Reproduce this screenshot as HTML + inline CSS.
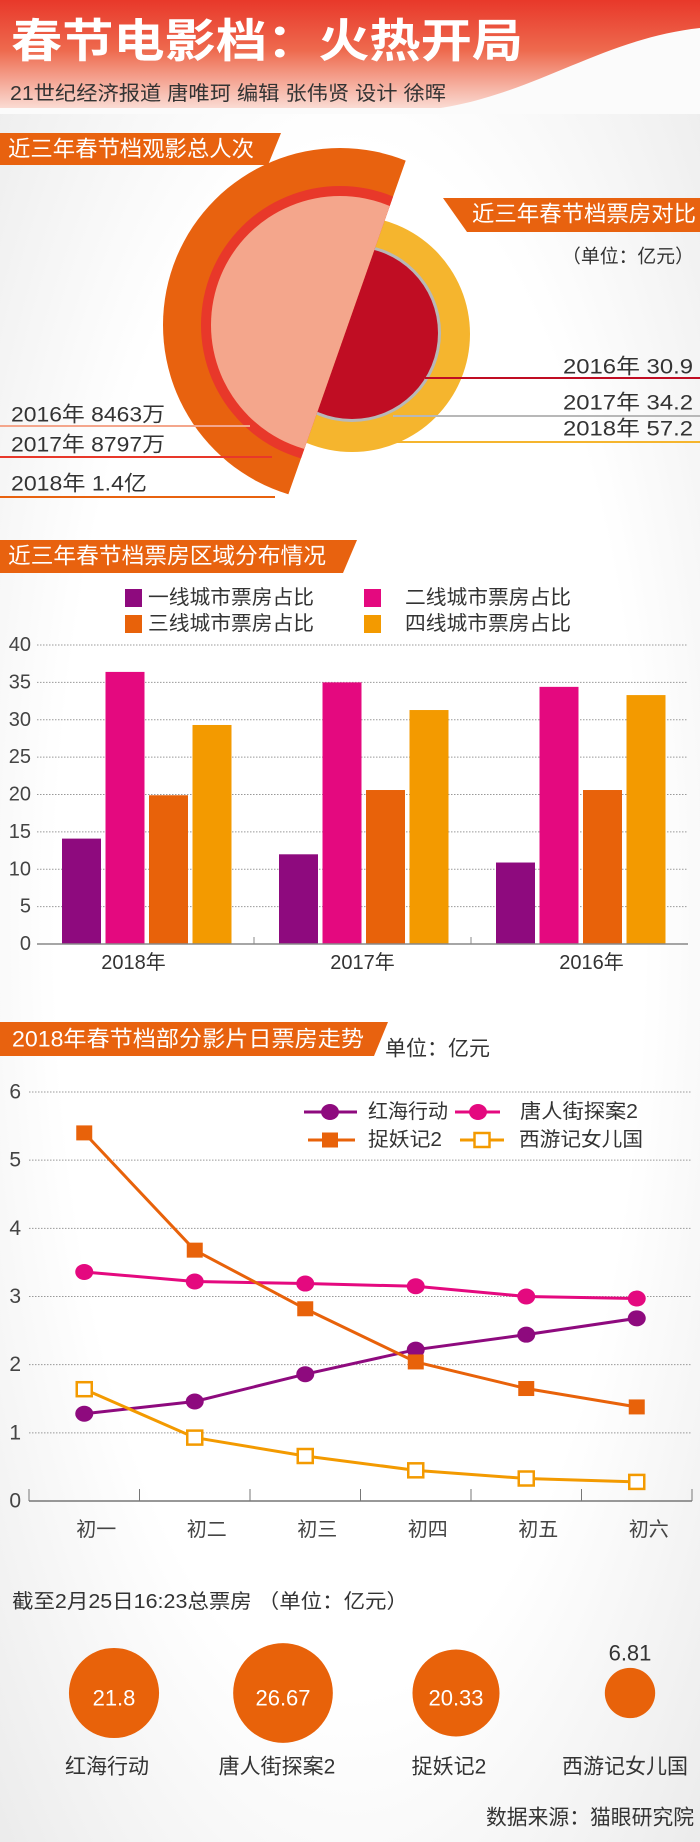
<!DOCTYPE html>
<html><head><meta charset="utf-8"><style>
html,body{margin:0;padding:0;background:#f7f7f7}
svg{display:block}
text{font-family:"Liberation Sans","Noto Sans CJK SC",sans-serif}
</style></head><body>
<svg id="page" width="700" height="1842" viewBox="0 0 700 1842" xmlns="http://www.w3.org/2000/svg">
<defs>
<linearGradient id="hdr" x1="0" y1="0" x2="0" y2="1">
<stop offset="0" stop-color="#e8382a"/><stop offset="0.45" stop-color="#ee6a4e"/><stop offset="1" stop-color="#fbe3dc"/>
</linearGradient>
<radialGradient id="bg" cx="0.5" cy="0.5" r="0.7"><stop offset="0.6" stop-color="#ffffff"/><stop offset="1" stop-color="#ececec"/></radialGradient>
<clipPath id="leftcut"><polygon points="0,0 407,0 407,157 286,501 286,700 0,700"/></clipPath>
<clipPath id="rightcut"><polygon points="407,0 700,0 700,700 286,700 286,501 407,157"/></clipPath>
</defs>
<rect x="0" y="0" width="700" height="1842" fill="url(#bg)"/>
<!-- header -->
<g>
<rect x="0" y="0" width="700" height="112" fill="url(#hdr)"/>
<path d="M400,112 C520,108 590,40 700,28 L700,112 Z" fill="#fbfbfb"/>
<rect x="0" y="108" width="700" height="6" fill="#fbfbfb"/>
<text x="11" y="41" font-size="46" fill="#fff" font-weight="bold" dominant-baseline="central" textLength="512" lengthAdjust="spacingAndGlyphs">春节电影档：火热开局</text>
<text x="10" y="94" font-size="20" fill="#333" dominant-baseline="central" textLength="436" lengthAdjust="spacingAndGlyphs">21世纪经济报道  唐唯珂 编辑 张伟贤 设计 徐晖</text>
</g>
<!-- section 1 -->
<g>
<polygon points="0,133 281,133 268,165 0,165" fill="#e8620f"/>
<text x="8" y="149" font-size="22" fill="#fff" dominant-baseline="central" textLength="246" lengthAdjust="spacingAndGlyphs">近三年春节档观影总人次</text>
<g clip-path="url(#rightcut)">
<circle cx="352" cy="334" r="118" fill="#f5b52e"/>
<circle cx="352" cy="333" r="89" fill="#b8b8b8"/>
<circle cx="352" cy="333" r="86" fill="#c00d23"/>
</g>
<g clip-path="url(#leftcut)">
<circle cx="340" cy="325" r="177" fill="#e8620f"/>
<circle cx="340" cy="325" r="139" fill="#e8382a"/>
<circle cx="340" cy="325" r="129" fill="#f4a68c"/>
</g>
<polygon points="443,198 700,198 700,232 467,232" fill="#e8620f"/>
<text x="472" y="214" font-size="22" fill="#fff" dominant-baseline="central" textLength="224" lengthAdjust="spacingAndGlyphs">近三年春节档票房对比</text>
<text x="562" y="257" font-size="19" fill="#333" dominant-baseline="central" textLength="132" lengthAdjust="spacingAndGlyphs">（单位：亿元）</text>
<line x1="425" y1="378" x2="700" y2="378" stroke="#c00d23" stroke-width="2"/>
<line x1="393" y1="416" x2="700" y2="416" stroke="#b8b8b8" stroke-width="2"/>
<line x1="393" y1="442" x2="700" y2="442" stroke="#f5b52e" stroke-width="2"/>
<text x="693" y="367" font-size="21" fill="#333" text-anchor="end" dominant-baseline="central" textLength="130" lengthAdjust="spacingAndGlyphs">2016年  30.9</text>
<text x="693" y="403" font-size="21" fill="#333" text-anchor="end" dominant-baseline="central" textLength="130" lengthAdjust="spacingAndGlyphs">2017年  34.2</text>
<text x="693" y="429" font-size="21" fill="#333" text-anchor="end" dominant-baseline="central" textLength="130" lengthAdjust="spacingAndGlyphs">2018年  57.2</text>
<line x1="0" y1="426" x2="250" y2="426" stroke="#f4a68c" stroke-width="2"/>
<line x1="0" y1="457" x2="272" y2="457" stroke="#e8382a" stroke-width="2"/>
<line x1="0" y1="497" x2="275" y2="497" stroke="#e8620f" stroke-width="2"/>
<text x="11" y="415" font-size="21" fill="#333" dominant-baseline="central" textLength="154" lengthAdjust="spacingAndGlyphs">2016年  8463万</text>
<text x="11" y="445" font-size="21" fill="#333" dominant-baseline="central" textLength="154" lengthAdjust="spacingAndGlyphs">2017年  8797万</text>
<text x="11" y="484" font-size="21" fill="#333" dominant-baseline="central" textLength="136" lengthAdjust="spacingAndGlyphs">2018年  1.4亿</text>
</g>
<!-- section 2 -->
<g id="barchart">
<polygon points="0,540 357,540 343,573 0,573" fill="#e8620f"/>
<text x="8" y="556" font-size="22" fill="#fff" dominant-baseline="central" textLength="318" lengthAdjust="spacingAndGlyphs">近三年春节档票房区域分布情况</text>
</g>
<!-- section 3 -->
<g id="linechart">
<polygon points="0,1022 388,1022 374,1056 0,1056" fill="#e8620f"/>
<text x="12" y="1039" font-size="22" fill="#fff" dominant-baseline="central" textLength="352" lengthAdjust="spacingAndGlyphs">2018年春节档部分影片日票房走势</text>
<text x="385" y="1049" font-size="21" fill="#333" dominant-baseline="central" textLength="105" lengthAdjust="spacingAndGlyphs">单位：亿元</text>
</g>
<!-- section 4 -->
<g id="bubbles">
<text x="12" y="1602" font-size="20" fill="#333" dominant-baseline="central" textLength="396" lengthAdjust="spacingAndGlyphs">截至2月25日16:23总票房 （单位：亿元）</text>
<text x="694" y="1818" font-size="21" fill="#333" text-anchor="end" dominant-baseline="central" textLength="208" lengthAdjust="spacingAndGlyphs">数据来源：猫眼研究院</text>
</g>
</svg>
<script>
// ---- bar chart data ----
const barYears = ['2018年', '2017年', '2016年'];
const tier1 = [14.1, 12.0, 10.9];
const tier2 = [36.4, 35.0, 34.4];
const tier3 = [19.9, 20.6, 20.6];
const tier4 = [29.3, 31.3, 33.3];
const barTicks = [0, 5, 10, 15, 20, 25, 30, 35, 40];
const barSeriesNames = ['一线城市票房占比', '二线城市票房占比', '三线城市票房占比', '四线城市票房占比'];
// ---- line chart data ----
const days = ['初一', '初二', '初三', '初四', '初五', '初六'];
const hongHai = [1.28, 1.46, 1.86, 2.22, 2.44, 2.68];
const tangRen = [3.36, 3.22, 3.19, 3.15, 3.00, 2.97];
const zhuoYao = [5.40, 3.68, 2.82, 2.04, 1.65, 1.38];
const xiYou = [1.64, 0.93, 0.66, 0.45, 0.33, 0.28];
const lineTicks = [0, 1, 2, 3, 4, 5, 6];
// ---- bubble data ----
const films = ['红海行动', '唐人街探案2', '捉妖记2', '西游记女儿国'];
const totals = [21.8, 26.67, 20.33, 6.81];

const NS = 'http://www.w3.org/2000/svg';
function mk(parent, tag, attrs, txt) {
  const e = document.createElementNS(NS, tag);
  for (const k in attrs) e.setAttribute(k, attrs[k]);
  if (txt !== undefined) e.textContent = txt;
  parent.appendChild(e);
  return e;
}
const FONT = '"Liberation Sans","Noto Sans CJK SC",sans-serif';

// ===== Bar chart =====
(function () {
  const g = document.getElementById('barchart');
  const x0 = 37, x1 = 688, yTop = 645, yBot = 944, vmax = 40;
  const y = v => yBot - (v / vmax) * (yBot - yTop);
  const gw = (x1 - x0) / barYears.length;
  const colors = ['#8e0a7e', '#e4097f', '#e8620a', '#f39a00'];
  const series = [tier1, tier2, tier3, tier4];
  // legend
  const lx = [125, 364], ly = [598, 624], tx = [148, 405];
  barSeriesNames.forEach((n, i) => {
    const c = i % 2, r = Math.floor(i / 2);
    const sq = mk(g, 'rect', { x: lx[c], y: ly[r] - 9, width: 17, height: 18, fill: colors[i] });
    
    
    const t = mk(g, 'text', { x: tx[c], y: ly[r], 'font-size': 20, fill: '#333', 'dominant-baseline': 'central', textLength: 166, lengthAdjust: 'spacingAndGlyphs', 'font-family': FONT }, n);
    
    
  });
  barTicks.forEach(v => {
    if (v > 0) {
      const l = mk(g, 'line', { x1: x0, x2: x1, y1: y(v), y2: y(v), stroke: '#999', 'stroke-width': 1, 'stroke-dasharray': '1.5,1.5' });
      
      
    }
    const t = mk(g, 'text', { x: 31, y: y(v), 'font-size': 20, fill: '#444', 'text-anchor': 'end', 'dominant-baseline': 'central', 'font-family': FONT }, String(v));
    
    
  });
  const bw = 39, gap = 4.5, off = 25;
  barYears.forEach((yr, gi) => {
    series.forEach((s, si) => {
      const bx = x0 + gi * gw + off + si * (bw + gap);
      const b = mk(g, 'rect', { x: bx, y: y(s[gi]), width: bw, height: yBot - y(s[gi]), fill: colors[si] });
      
      
    });
    const t = mk(g, 'text', { x: x0 + gi * gw + gw / 2 + (gi - 1) * 12, y: 963, 'font-size': 20, fill: '#333', 'text-anchor': 'middle', 'dominant-baseline': 'central', 'font-family': FONT }, yr);
    
    
    if (gi > 0) {
      const tk = mk(g, 'line', { x1: x0 + gi * gw, x2: x0 + gi * gw, y1: yBot, y2: yBot - 7, stroke: '#888', 'stroke-width': 1 });
      
      
    }
  });
  const ax = mk(g, 'line', { x1: x0, x2: x1, y1: yBot, y2: yBot, stroke: '#888', 'stroke-width': 1.5 });
  
  
})();

// ===== Line chart =====
(function () {
  const g = document.getElementById('linechart');
  const x0 = 29, x1 = 692, yTop = 1092, yBot = 1501, vmax = 6;
  const y = v => yBot - (v / vmax) * (yBot - yTop);
  const bw = (x1 - x0) / days.length;
  const x = i => x0 + bw * (i + 0.5);
  lineTicks.forEach(v => {
    if (v > 0) {
      const l = mk(g, 'line', { x1: x0, x2: x1, y1: y(v), y2: y(v), stroke: '#999', 'stroke-width': 1, 'stroke-dasharray': '1.5,1.5' });
      
      
    }
    const t = mk(g, 'text', { x: 21, y: y(v), 'font-size': 21, fill: '#444', 'text-anchor': 'end', 'dominant-baseline': 'central', 'font-family': FONT }, String(v));
    
    
  });
  const ax = mk(g, 'line', { x1: x0, x2: x1, y1: yBot, y2: yBot, stroke: '#777', 'stroke-width': 1.5 });
  
  
  for (let i = 0; i <= days.length; i++) {
    const tk = mk(g, 'line', { x1: x0 + bw * i, x2: x0 + bw * i, y1: yBot, y2: yBot - 12, stroke: '#777', 'stroke-width': 1 });
    
    
  }
  days.forEach((d, i) => {
    const t = mk(g, 'text', { x: x(i) + 12, y: 1530, 'font-size': 20, fill: '#444', 'text-anchor': 'middle', 'dominant-baseline': 'central', 'font-family': FONT }, d);
    
    
  });
  const defs = [
    { d: hongHai, c: '#8e0a7e', m: 'circle', name: 'hong-hai' },
    { d: tangRen, c: '#e4097f', m: 'circle', name: 'tang-ren' },
    { d: zhuoYao, c: '#e8620a', m: 'square', name: 'zhuo-yao' },
    { d: xiYou, c: '#f39a00', m: 'open', name: 'xi-you' }
  ];
  function marker(px, py, s) {
    let e;
    if (s.m === 'circle') e = mk(g, 'ellipse', { cx: px, cy: py, rx: 9, ry: 8, fill: s.c });
    else if (s.m === 'square') e = mk(g, 'rect', { x: px - 8, y: py - 7.5, width: 16, height: 15, fill: s.c });
    else e = mk(g, 'rect', { x: px - 7.5, y: py - 7, width: 15, height: 14, fill: '#fff', stroke: s.c, 'stroke-width': 2.5 });
    return e;
  }
  defs.forEach(s => {
    const pts = s.d.map((v, i) => x(i) + ',' + y(v)).join(' ');
    const pl = mk(g, 'polyline', { points: pts, fill: 'none', stroke: s.c, 'stroke-width': 3 });
    
    
  });
  defs.forEach(s => {
    s.d.forEach((v, i) => {
      const e = marker(x(i), y(v), s);
      
      
    });
  });
  // legend
  const leg = [
    { s: defs[0], lx1: 304, lx2: 357, mx: 330, ly: 1112, tx: 368, t: '红海行动', w: 80 },
    { s: defs[1], lx1: 455, lx2: 500, mx: 478, ly: 1112, tx: 520, t: '唐人街探案2', w: 118 },
    { s: defs[2], lx1: 308, lx2: 355, mx: 330, ly: 1140, tx: 368, t: '捉妖记2', w: 74 },
    { s: defs[3], lx1: 460, lx2: 504, mx: 482, ly: 1140, tx: 519, t: '西游记女儿国', w: 124 }
  ];
  leg.forEach(L => {
    const ln = mk(g, 'line', { x1: L.lx1, x2: L.lx2, y1: L.ly, y2: L.ly, stroke: L.s.c, 'stroke-width': 3 });
    
    
    const m = marker(L.mx, L.ly, L.s);
    
    
    const t = mk(g, 'text', { x: L.tx, y: L.ly, 'font-size': 20, fill: '#333', 'dominant-baseline': 'central', textLength: L.w, lengthAdjust: 'spacingAndGlyphs', 'font-family': FONT }, L.t);
    
    
  });
})();

// ===== Bubbles =====
(function () {
  const g = document.getElementById('bubbles');
  const cxs = [114, 283, 456, 630];
  const nameX = [107, 277, 449, 625];
  const cy = 1693, k = 9.65;
  films.forEach((f, i) => {
    const r = k * Math.sqrt(totals[i]);
    const c = mk(g, 'circle', { cx: cxs[i], cy: cy, r: r, fill: '#e8620a' });
    
    
    const inside = r > 35;
    const t = mk(g, 'text', { x: cxs[i], y: inside ? cy + 5 : cy - r - 15, 'font-size': 22, fill: inside ? '#fff' : '#333', 'text-anchor': 'middle', 'dominant-baseline': 'central', 'font-family': FONT }, String(totals[i]));
    
    
    const n = mk(g, 'text', { x: nameX[i], y: 1767, 'font-size': 21, fill: '#333', 'text-anchor': 'middle', 'dominant-baseline': 'central', 'font-family': FONT }, f);
    
    
  });
})();
</script>
</body></html>
